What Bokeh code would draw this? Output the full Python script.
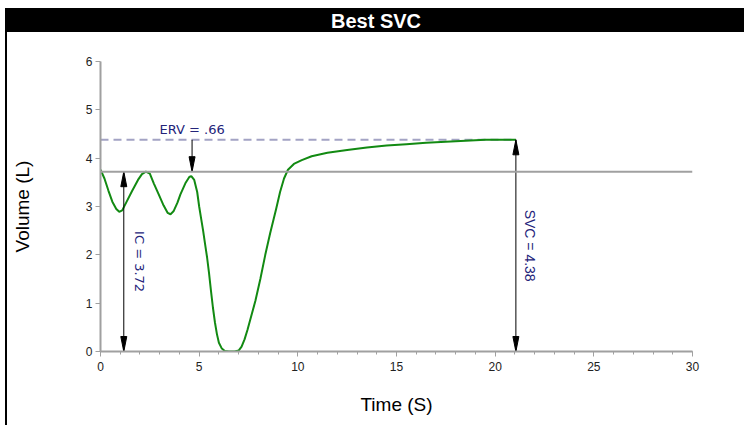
import numpy as np
from bokeh.plotting import figure
from bokeh.models import Range1d, SingleIntervalTicker, Span
from bokeh.layouts import column
from bokeh.embed import file_html
from bokeh.resources import INLINE
from bokeh.core.properties import value

# ---------------- data ----------------
title_text = "Best SVC"
x_label = "Time (S)"
y_label = "Volume (L)"

time_s = [0.0, 0.2, 0.4, 0.6, 0.8, 0.95, 1.1, 1.3, 1.6, 1.9, 2.1, 2.3, 2.5, 2.7,
          2.95, 3.2, 3.4, 3.55, 3.7, 3.9, 4.05, 4.3, 4.5, 4.6, 4.75, 4.9, 5.0,
          5.1, 5.2, 5.3, 5.4, 5.5, 5.6, 5.7, 5.8, 5.9, 6.0, 6.15, 6.3, 6.5, 6.8,
          7.0, 7.15, 7.3, 7.45, 7.65, 7.85, 8.1, 8.35, 8.6, 8.9, 9.1, 9.3, 9.5,
          9.8, 10.2, 10.7, 11.5, 12.5, 13.5, 14.5, 15.5, 16.5, 17.5, 18.5, 19.5,
          20.5, 21.05]
volume_l = [3.76, 3.58, 3.33, 3.10, 2.95, 2.89, 2.92, 3.08, 3.32, 3.55, 3.67, 3.72,
            3.68, 3.48, 3.25, 3.02, 2.87, 2.84, 2.90, 3.08, 3.25, 3.48, 3.61, 3.63,
            3.55, 3.30, 3.00, 2.75, 2.50, 2.22, 1.95, 1.62, 1.25, 0.90, 0.60, 0.36,
            0.18, 0.06, 0.01, 0.0, 0.0, 0.02, 0.10, 0.25, 0.45, 0.75, 1.05, 1.50,
            2.00, 2.45, 2.95, 3.30, 3.58, 3.76, 3.88, 3.96, 4.04, 4.11, 4.17, 4.22,
            4.26, 4.29, 4.32, 4.34, 4.36, 4.38, 4.38, 4.38]

ic_value = 3.72
svc_value = 4.38
erv_value = round(svc_value - ic_value, 2)

ic_arrow_x = 1.18
erv_arrow_x = 4.64
svc_arrow_x = time_s[-1]

x_max = 30
y_max = 6

# ---------------- layout ----------------
W = 737
BAR_H = 24
MAIN_H = 393
ML, MR, MT, MB = 93, 52, 29, 74
frame_w = W - ML - MR
frame_h = MAIN_H - MT - MB

FONT = "Liberation Sans"

bar = figure(width=W, height=BAR_H, x_range=Range1d(0, 1), y_range=Range1d(0, 1),
             toolbar_location=None, output_backend="svg",
             min_border_left=ML, min_border_right=MR, min_border_top=0, min_border_bottom=0,
             x_axis_location=None, y_axis_location=None,
             background_fill_color="black", border_fill_color="black",
             outline_line_color=None, styles={"background-color": "black"})
bar.grid.visible = False
# centre of the whole canvas, expressed in the bar's frame coordinates
title_x = (W / 2 - ML) / frame_w
bar.text(x=[title_x], y=[0.5], text=[title_text], text_color="white",
         text_font=value(FONT), text_font_style="bold", text_font_size="20px",
         text_align="center", text_baseline="middle")

p = figure(width=W, height=MAIN_H, x_range=Range1d(0, x_max), y_range=Range1d(0, y_max),
           toolbar_location=None, output_backend="svg",
           min_border_left=ML, min_border_right=MR, min_border_top=MT, min_border_bottom=MB,
           outline_line_color=None, background_fill_color="white", border_fill_color="white")
p.grid.visible = False

p.xaxis.ticker = SingleIntervalTicker(interval=5, num_minor_ticks=5)
p.yaxis.ticker = SingleIntervalTicker(interval=1, num_minor_ticks=0)
for ax in (p.xaxis[0], p.yaxis[0]):
    ax.axis_line_color = "#a0a0a0"
    ax.axis_line_width = 2
    ax.major_tick_line_color = "#a0a0a0"
    ax.minor_tick_line_color = "#a0a0a0"
    ax.major_tick_out = 5
    ax.major_tick_in = 0
    ax.minor_tick_out = 3
    ax.minor_tick_in = 0
    ax.major_label_text_font = FONT
    ax.major_label_text_font_size = "12px"
    ax.major_label_text_color = "#222222"
    ax.axis_label_text_font = FONT
    ax.axis_label_text_font_size = "19px"
    ax.axis_label_text_font_style = "normal"
    ax.axis_label_text_color = "black"
p.xaxis.axis_label = x_label
p.yaxis.axis_label = y_label
p.xaxis.major_label_standoff = 5
p.xaxis.axis_label_standoff = 20
p.yaxis.major_label_standoff = 3
p.yaxis.axis_label_standoff = 50

# reference lines
p.add_layout(Span(location=ic_value, dimension="width", line_color="#a0a0a0", line_width=2))
p.line(x=[0, svc_arrow_x], y=[svc_value, svc_value], line_color="#a3a3c4",
       line_width=2, line_dash="8 5")

# curve
p.line(x=time_s, y=volume_l, line_color="#128a12", line_width=2)

# arrows
p.segment(x0=[ic_arrow_x, erv_arrow_x, svc_arrow_x], y0=[0, svc_value, 0],
          x1=[ic_arrow_x, erv_arrow_x, svc_arrow_x], y1=[ic_value, ic_value, svc_value],
          line_color="black", line_width=1)

ux = x_max / frame_w
uy = y_max / frame_h
head_len = 15
head_half = 3


def head(x, tip_y, direction):
    base = tip_y - direction * head_len * uy
    return [x - head_half * ux, x, x + head_half * ux], [base, tip_y, base]


heads = [head(ic_arrow_x, ic_value, 1), head(ic_arrow_x, 0, -1),
         head(erv_arrow_x, ic_value, -1),
         head(svc_arrow_x, svc_value, 1), head(svc_arrow_x, 0, -1)]
p.patches(xs=[h[0] for h in heads], ys=[h[1] for h in heads],
          fill_color="black", line_color="black", line_width=1)

# annotation texts
ann_color = "#24247a"
erv_text = "ERV = " + f"{erv_value:.2f}".lstrip("0")
p.text(x=[erv_arrow_x], y=[svc_value + 0.06], text=[erv_text], text_color=ann_color,
       text_font=value("DejaVu Sans"), text_font_size="13px",
       text_align="center", text_baseline="bottom")
p.text(x=[ic_arrow_x + 0.8], y=[ic_value / 2], text=[f"IC = {ic_value:.2f}"],
       text_color=ann_color, text_font=value("DejaVu Sans"), text_font_size="13px",
       angle=-np.pi / 2, text_align="center", text_baseline="middle")
p.text(x=[svc_arrow_x + 0.7], y=[svc_value / 2], text=[f"SVC = {svc_value:.2f}"],
       text_color=ann_color, text_font=value(FONT), text_font_size="14px",
       angle=-np.pi / 2, text_align="center", text_baseline="middle")

layout = column(bar, p, spacing=0,
                styles={"margin-left": "5px", "margin-top": "8px",
                        "border-left": "2px solid black"})
open("out.html", "w").write(file_html(layout, INLINE))
